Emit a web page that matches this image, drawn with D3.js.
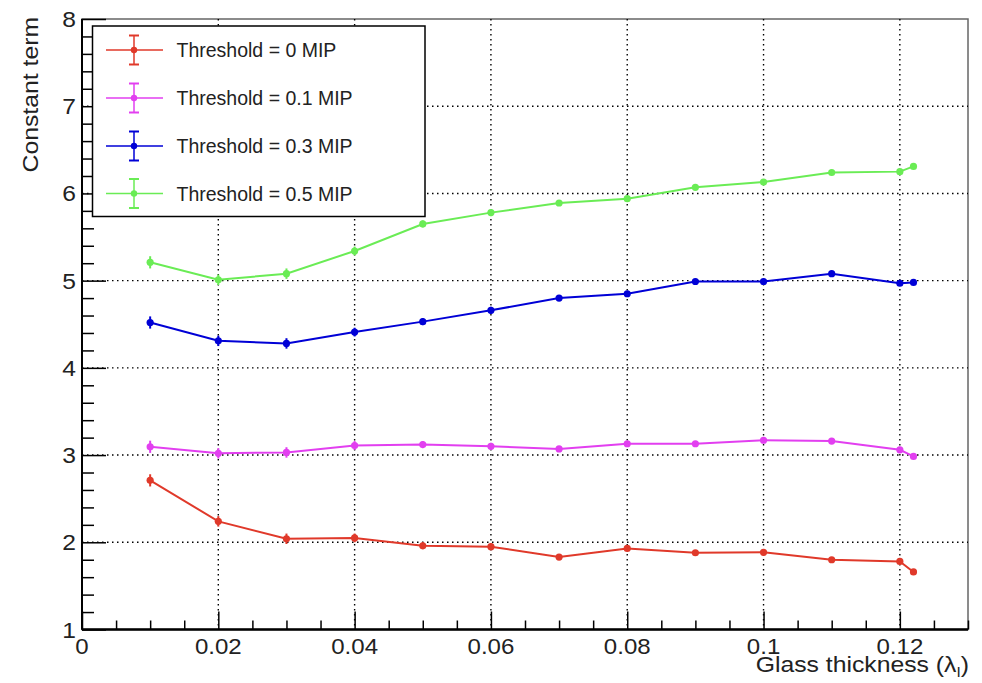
<!DOCTYPE html>
<html><head><meta charset="utf-8">
<script src="https://cdn.jsdelivr.net/npm/d3@7"></script>
<style>body{margin:0;background:#fff;} svg{display:block;font-family:"Liberation Sans",Arial,sans-serif;}</style>
</head><body><svg id="c" width="982" height="683"></svg>
<script>
const xs      = [0.01,0.02,0.03,0.04,0.05,0.06,0.07,0.08,0.09,0.10,0.11,0.12,0.122];
const red     = [2.71,2.24,2.04,2.05,1.96,1.95,1.83,1.93,1.88,1.885,1.80,1.78,1.66];
const magenta = [3.095,3.02,3.03,3.11,3.12,3.10,3.07,3.13,3.13,3.17,3.16,3.06,2.985];
const blue    = [4.52,4.31,4.28,4.41,4.53,4.66,4.80,4.85,4.99,4.99,5.08,4.97,4.98];
const green   = [5.21,5.01,5.08,5.34,5.65,5.78,5.89,5.94,6.07,6.13,6.24,6.25,6.31];
const errs    = [0.07,0.06,0.06,0.05,0.04,0.04,0.03,0.03,0.03,0.03,0.03,0.03,0.03];
const seriesNames = ["Threshold = 0 MIP","Threshold = 0.1 MIP","Threshold = 0.3 MIP","Threshold = 0.5 MIP"];
const seriesValues = [red, magenta, blue, green];
const seriesColors = ["#e0392a","#e23ff0","#0000d6","#6aec55"];
const xTickVals = [0,0.02,0.04,0.06,0.08,0.1,0.12];
const xTickLabels = ["0","0.02","0.04","0.06","0.08","0.1","0.12"];
const yTickVals = [1,2,3,4,5,6,7,8];
const xTitle = "Glass thickness (λ";
const yTitle = "Constant term";

const svg = d3.select("#c");
const L=82, R=968, T=19, B=629.5;
const x = d3.scaleLinear().domain([0,0.13]).range([L,R]);
const y = d3.scaleLinear().domain([1,8]).range([B,T]);

// frame
svg.append("rect").attr("x",L).attr("y",T).attr("width",R-L).attr("height",B-T)
  .attr("fill","none").attr("stroke","#666").attr("stroke-width",1.5);

// grid
const g = svg.append("g");
xTickVals.filter(v=>v>0).forEach(v=>{
  g.append("line").attr("x1",x(v)).attr("x2",x(v)).attr("y1",T).attr("y2",B)
   .attr("stroke","#000").attr("stroke-width",1.4).attr("stroke-dasharray","1.5,3.5");
});
yTickVals.filter(v=>v>1&&v<8).forEach(v=>{
  g.append("line").attr("x1",L).attr("x2",R).attr("y1",y(v)).attr("y2",y(v))
   .attr("stroke","#000").attr("stroke-width",1.4).attr("stroke-dasharray","1.5,3.5");
});

// x axis ticks
const xMinor = d3.range(0,0.1301,0.005).filter(v=>!xTickVals.some(t=>Math.abs(t-v)<1e-9));
const xAx = svg.append("g").attr("transform",`translate(0,${B})`)
  .call(d3.axisBottom(x).tickValues(xTickVals).tickSize(-18).tickFormat(""));
xAx.append("g").call(d3.axisBottom(x).tickValues(xMinor).tickSize(-9).tickFormat(""));
xAx.selectAll("path.domain").attr("stroke","#000").attr("stroke-width",2).attr("d",`M${L},0H${R}`);
xAx.selectAll(".tick line").attr("stroke","#000").attr("stroke-width",1.5);
xTickVals.forEach((v,i)=>{
  svg.append("text").attr("transform",`translate(${x(v)},${B+24}) scale(1.12,1)`).attr("text-anchor","middle")
    .attr("font-size",21.5).attr("fill","#222").text(xTickLabels[i]);
});

// y axis ticks
const yMinor = d3.range(1,8.001,0.2).filter(v=>Math.abs(v-Math.round(v))>1e-6);
const yAx = svg.append("g").attr("transform",`translate(${L},0)`)
  .call(d3.axisLeft(y).tickValues(yTickVals).tickSize(-24).tickFormat(""));
yAx.append("g").call(d3.axisLeft(y).tickValues(yMinor).tickSize(-12).tickFormat(""));
yAx.selectAll("path.domain").attr("stroke","#000").attr("stroke-width",2).attr("d",`M0,${B}V${T}`);
yAx.selectAll(".tick line").attr("stroke","#000").attr("stroke-width",1.5);
yTickVals.forEach(v=>{
  svg.append("text").attr("transform",`translate(${L-6},${y(v)+8}) scale(1.12,1)`).attr("text-anchor","end")
    .attr("font-size",22).attr("fill","#222").text(v);
});

// titles
const xt = svg.append("text").attr("transform",`translate(${R+1},672) scale(1.1,1)`).attr("text-anchor","end")
  .attr("font-size",22.5).attr("fill","#222");
xt.append("tspan").text(xTitle);
xt.append("tspan").attr("font-size",14).attr("dy",5).text("I");
xt.append("tspan").attr("dy",-5).text(")");
svg.append("text").attr("transform","translate(38,17) rotate(-90) scale(1.1,1)").attr("text-anchor","end")
  .attr("font-size",22.5).attr("fill","#222").text(yTitle);

// series
const line = d3.line().x(d=>x(d[0])).y(d=>y(d[1]));
seriesValues.forEach((vals,si)=>{
  const col = seriesColors[si];
  const pts = xs.map((xv,i)=>[xv,vals[i],errs[i]]);
  const sg = svg.append("g");
  sg.append("path").datum(pts).attr("d",line).attr("fill","none").attr("stroke",col).attr("stroke-width",2);
  sg.selectAll("line.err").data(pts).join("line").attr("class","err")
    .attr("x1",d=>x(d[0])).attr("x2",d=>x(d[0])).attr("y1",d=>y(d[1]-d[2])).attr("y2",d=>y(d[1]+d[2]))
    .attr("stroke",col).attr("stroke-width",2);
  sg.selectAll("circle").data(pts).join("circle")
    .attr("cx",d=>x(d[0])).attr("cy",d=>y(d[1])).attr("r",3.6).attr("fill",col);
});

// legend
const lg = svg.append("g");
lg.append("rect").attr("x",92.5).attr("y",26).attr("width",332.5).attr("height",190.5)
  .attr("fill","#fff").attr("stroke","#000").attr("stroke-width",1.5);
const rowY = [50,98,146,193.5];
seriesNames.forEach((nm,i)=>{
  const col = seriesColors[i], cy=rowY[i], cx=134;
  lg.append("line").attr("x1",106).attr("x2",163).attr("y1",cy).attr("y2",cy).attr("stroke",col).attr("stroke-width",1.5);
  lg.append("line").attr("x1",cx).attr("x2",cx).attr("y1",cy-14.5).attr("y2",cy+14.5).attr("stroke",col).attr("stroke-width",1.5);
  [cy-14.5,cy+14.5].forEach(yy=>lg.append("line").attr("x1",cx-5).attr("x2",cx+5).attr("y1",yy).attr("y2",yy).attr("stroke",col).attr("stroke-width",2));
  lg.append("circle").attr("cx",cx).attr("cy",cy).attr("r",3.2).attr("fill",col);
  lg.append("text").attr("x",176.5).attr("y",cy).attr("dominant-baseline","central")
    .attr("font-size",19.5).attr("fill","#222").text(nm);
});
</script></body></html>
